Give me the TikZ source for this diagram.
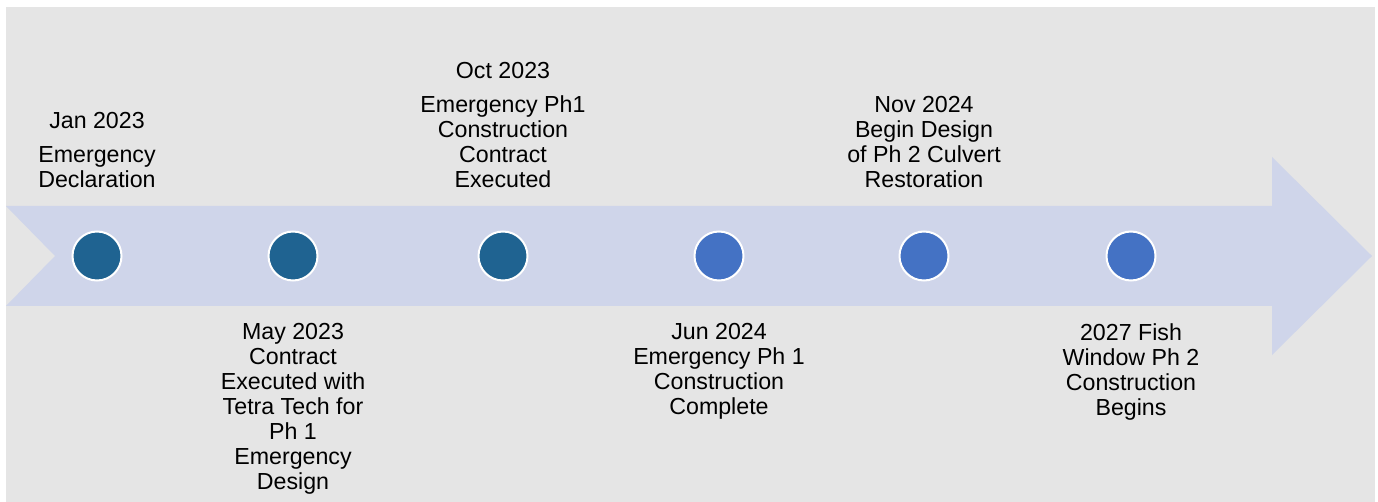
\documentclass[tikz,border=0pt]{standalone}
\usepackage{fontspec}
\setmainfont{Liberation Sans}
\definecolor{bggray}{HTML}{E5E5E5}
\definecolor{band}{HTML}{CFD5EA}
\definecolor{darkdot}{HTML}{1F6391}
\definecolor{lightdot}{HTML}{4472C4}
\tikzset{
  dot/.style={circle, draw=white, line width=2pt, minimum size=49pt, inner sep=0pt},
  lbl/.style={align=center, inner sep=0pt, font=\fontsize{23.2}{25}\selectfont},
  above lbl/.style={lbl, anchor=south},
  below lbl/.style={lbl, anchor=north},
}
\begin{document}
\begin{tikzpicture}[x=1pt, y=-1pt]
\useasboundingbox (0,0) rectangle (1378,502);
\fill[bggray] (6,7) rectangle (1375,502);
\fill[band] (6,206) -- (1272,206) -- (1272,157) -- (1372,256) -- (1272,355)
  -- (1272,306) -- (6,306) -- (55,256) -- cycle;
\node[dot, fill=darkdot] (c1) at (97,256) {};
\node[dot, fill=darkdot] (c2) at (293,256) {};
\node[dot, fill=darkdot] (c3) at (503,256) {};
\node[dot, fill=lightdot] (c4) at (719,256) {};
\node[dot, fill=lightdot] (c5) at (924,256) {};
\node[dot, fill=lightdot] (c6) at (1131,256) {};
\node[above lbl] (t1) at (97,188.3) {Jan 2023\\[9.5pt]Emergency\\Declaration};
\node[above lbl] (t3) at (503,188.3) {Oct 2023\\[9pt]Emergency Ph1\\Construction\\Contract\\Executed};
\node[above lbl] (t5) at (924,188.3) {Nov 2024\\Begin Design\\of Ph 2 Culvert\\Restoration};
\node[below lbl] (t2) at (293,323.4) {May 2023\\Contract\\Executed with\\Tetra Tech for\\Ph 1\\Emergency\\Design};
\node[below lbl] (t4) at (719,323.4) {Jun 2024\\Emergency Ph 1\\Construction\\Complete};
\node[below lbl] (t6) at (1131,323.4) {2027 Fish\\Window Ph 2\\Construction\\Begins};
\end{tikzpicture}
\end{document}
